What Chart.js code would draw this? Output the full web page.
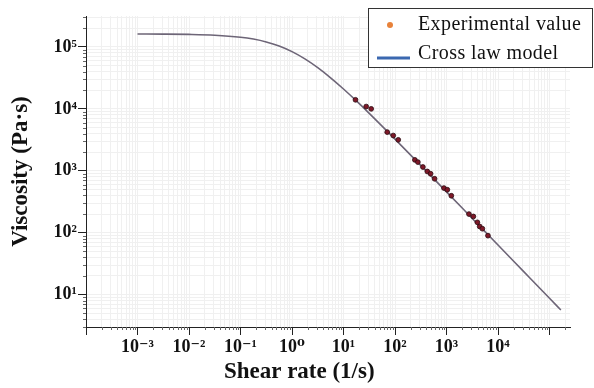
<!DOCTYPE html>
<html>
<head>
<meta charset="utf-8">
<script src="https://cdn.jsdelivr.net/npm/chart.js@4/dist/chart.umd.min.js"></script>
<style>
  body { margin: 0; background: #fff; }
</style>
</head>
<body>
<canvas id="chart" width="594" height="388"></canvas>
<script>
// measured points (shear rate 1/s, viscosity Pa·s)
const shearRate = [17.1, 27.6, 34.5, 70.6, 92.5, 115.6, 243, 278, 348, 424, 491, 587, 891, 1038, 1241, 2730, 3324, 3975, 4406, 4970, 6380];
const viscosity = [14000, 10900, 10000, 4210, 3710, 3160, 1500, 1380, 1150, 975, 895, 743, 526, 494, 395, 200, 183, 147, 126, 116, 89.6];

// cross law curve
const modelShear = [0.001, 0.00316, 0.01, 0.0316, 0.1, 0.178, 0.316, 0.562, 1, 1.78, 3.16, 5.62, 10, 17.8, 31.6, 100, 316, 1000, 3160, 10000, 31600, 100000, 166000];
const modelVisc = [161800, 161200, 159400, 154800, 143700, 134000, 120500, 103500, 84000, 64150, 46270, 31730, 20940, 13440, 8470, 3250, 1224, 457, 170, 63.2, 23.5, 8.73, 5.65];

const xRange = [1e-4, 2.5e5];
const yRange = [3, 316000];
const xLabelled = [-3, -2, -1, 0, 1, 2, 3, 4];
const yLabelled = [1, 2, 3, 4, 5];

const serif = '"Liberation Serif", "DejaVu Serif", serif';
const sup = {'0':'⁰','1':'¹','2':'²','3':'³','4':'⁴','5':'⁵','6':'⁶','7':'⁷','8':'⁸','9':'⁹','-':'⁻'};

function isDecade(v) {
    const l = Math.log10(v);
    return Math.abs(l - Math.round(l)) < 1e-6;
}
function decadeLabel(v, shown) {
    if (!isDecade(v)) return '';
    const e = Math.round(Math.log10(v));
    if (!shown.includes(e)) return '';
    return '10' + String(e).split('').map(c => sup[c]).join('');
}
function logTicks(scale) {
    const ticks = [];
    const lo = Math.floor(Math.log10(scale.min)), hi = Math.ceil(Math.log10(scale.max));
    for (let e = lo; e <= hi; e++) {
        for (let m = 1; m < 10; m++) {
            const v = m * Math.pow(10, e);
            if (v >= scale.min * 0.9999 && v <= scale.max * 1.0001) ticks.push({value: v, major: m === 1});
        }
    }
    scale.ticks = ticks;
}

// short minor tick marks on both axes
const minorTicks = {
    id: 'minorTicks',
    afterDraw(chart) {
        const c = chart.ctx, a = chart.chartArea;
        c.save();
        c.strokeStyle = '#666';
        c.lineWidth = 1;
        chart.scales.x.ticks.forEach(t => {
            if (isDecade(t.value)) return;
            const px = Math.round(chart.scales.x.getPixelForValue(t.value)) + 0.5;
            c.beginPath(); c.moveTo(px, a.bottom); c.lineTo(px, a.bottom + 3); c.stroke();
        });
        chart.scales.y.ticks.forEach(t => {
            if (isDecade(t.value)) return;
            const py = Math.round(chart.scales.y.getPixelForValue(t.value)) + 0.5;
            c.beginPath(); c.moveTo(a.left - 3, py); c.lineTo(a.left, py); c.stroke();
        });
        c.restore();
    }
};

// boxed legend in the top right corner, as in the figure
const boxLegend = {
    id: 'boxLegend',
    afterDraw(chart) {
        const c = chart.ctx;
        const ds = chart.data.datasets;
        c.save();
        c.fillStyle = '#fff';
        c.fillRect(368, 8, 225, 60);
        c.strokeStyle = '#333';
        c.lineWidth = 1;
        c.strokeRect(368.5, 8.5, 224, 59);
        c.font = '20px ' + serif;
        c.letterSpacing = '0.4px';
        c.fillStyle = '#111';
        c.textBaseline = 'middle';
        // experimental value
        c.beginPath();
        c.arc(390, 25, 3, 0, Math.PI * 2);
        c.fillStyle = '#e8823a';
        c.fill();
        c.fillStyle = '#111';
        c.fillText(ds[1].label, 418, 25);
        // model line
        c.strokeStyle = '#3b68b0';
        c.lineWidth = 3;
        c.beginPath(); c.moveTo(377, 58); c.lineTo(410, 58); c.stroke();
        c.fillText(ds[0].label, 418, 54);
        c.restore();
    }
};

const tickFont = {family: serif, size: 18, weight: 'bold'};
const titleFont = {family: serif, size: 23, weight: 'bold'};

new Chart(document.getElementById('chart'), {
    data: {
        datasets: [{
            type: 'line',
            label: 'Cross law model',
            data: modelShear.map((x, i) => ({x: x, y: modelVisc[i]})),
            borderColor: '#6d6577',
            borderWidth: 1.6,
            pointRadius: 0,
            cubicInterpolationMode: 'monotone',
            order: 2
        }, {
            type: 'scatter',
            label: 'Experimental value',
            data: shearRate.map((x, i) => ({x: x, y: viscosity[i]})),
            backgroundColor: '#7e1828',
            borderColor: '#2a0a10',
            borderWidth: 0.8,
            pointRadius: 2.4,
            order: 1
        }]
    },
    options: {
        responsive: false,
        animation: false,
        layout: {padding: {top: 16, right: 24, left: 0, bottom: 0}},
        plugins: {legend: {display: false}, tooltip: {enabled: false}},
        scales: {
            x: {
                type: 'logarithmic',
                min: xRange[0], max: xRange[1],
                afterBuildTicks: logTicks,
                afterFit(s) { s.height = 61; },
                border: {display: true, color: '#222', width: 1},
                grid: {
                    color: '#f0f0f0',
                    tickLength: 8,
                    tickColor: ctx => (ctx.tick && isDecade(ctx.tick.value)) ? '#222' : 'rgba(0,0,0,0)'
                },
                ticks: {
                    autoSkip: false, maxRotation: 0, padding: 2,
                    color: '#111', font: tickFont,
                    callback: v => decadeLabel(v, xLabelled)
                },
                title: {display: true, text: 'Shear rate (1/s)\u2002\u2002\u2002\u2002\u2002', color: '#111', font: titleFont, padding: {top: 0, bottom: 2}}
            },
            y: {
                type: 'logarithmic',
                min: yRange[0], max: yRange[1],
                afterBuildTicks: logTicks,
                afterFit(s) { s.width = 86; },
                border: {display: true, color: '#222', width: 1},
                grid: {
                    color: '#f0f0f0',
                    tickLength: 8,
                    tickColor: ctx => (ctx.tick && isDecade(ctx.tick.value)) ? '#222' : 'rgba(0,0,0,0)'
                },
                ticks: {
                    autoSkip: false, padding: 1,
                    color: '#111', font: tickFont,
                    callback: v => decadeLabel(v, yLabelled)
                },
                title: {display: true, text: 'Viscosity (Pa·s)', color: '#111', font: titleFont, padding: {top: 7, bottom: 0}}
            }
        }
    },
    plugins: [minorTicks, boxLegend]
});
</script>
</body>
</html>
